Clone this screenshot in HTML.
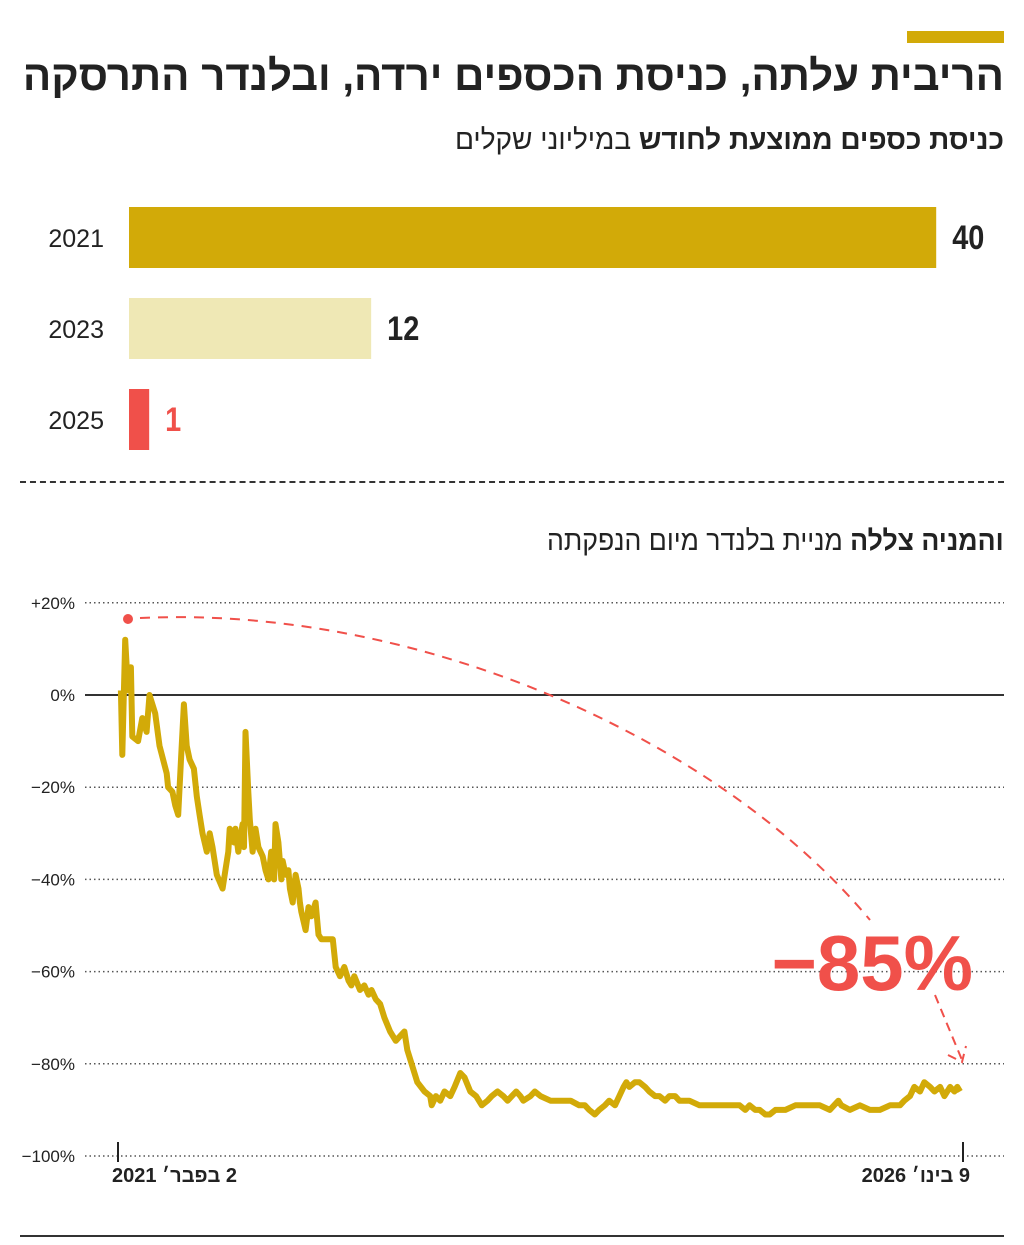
<!DOCTYPE html>
<html lang="he"><head><meta charset="utf-8">
<style>
body{margin:0;background:#fff;}
#root{position:relative;width:1024px;height:1245px;overflow:hidden;font-family:"Liberation Sans","Noto Sans CJK SC",sans-serif;background:#fff;}
.t{position:absolute;white-space:nowrap;}
</style></head><body>
<div id="root">
<div class="t" style="left:907px;top:31px;width:97px;height:12px;background:#d2aa08"></div>
<div class="t" dir="rtl" style="right:20px;top:52px;font-size:42px;font-weight:bold;color:#222;">הריבית עלתה, כניסת הכספים ירדה, ובלנדר התרסקה</div>
<div class="t" dir="rtl" style="right:20px;top:124px;font-size:28px;color:#222;"><b>כניסת כספים ממוצעת לחודש</b> במיליוני שקלים</div>
<svg id="bars" class="t" style="left:0;top:0" width="1024" height="470"></svg>
<div class="t" style="left:20px;top:481px;width:984px;border-top:2px dashed #333"></div>
<div class="t" dir="rtl" style="right:20px;top:525px;font-size:28px;color:#222;transform:scaleX(0.95);transform-origin:right"><b>והמניה צללה</b> מניית בלנדר מיום הנפקתה</div>
<svg id="line" class="t" style="left:0;top:580px" width="1024" height="620"></svg>
<div class="t" dir="rtl" style="left:112px;top:1165px;font-size:20px;font-weight:bold;color:#222">2 בפבר׳ 2021</div>
<div class="t" dir="rtl" style="right:54px;top:1165px;font-size:20px;font-weight:bold;color:#222">9 בינו׳ 2026</div>
<div class="t" style="left:20px;top:1235px;width:984px;border-top:2px solid #333"></div>
</div>
<script>
const barYears=["2021","2023","2025"];
const barValues=[40,12,1];
const barColors=["#d2aa08","#efe8b5","#f0504a"];
const labelColors=["#222","#222","#f0504a"];

const months=[0.2,0.3,0.5,0.7,0.9,1.0,1.4,1.7,2.0,2.2,2.6,2.9,3.4,3.5,3.8,4.0,4.2,4.4,4.6,4.8,5.0,5.3,5.5,5.7,5.9,6.2,6.4,6.6,6.9,7.3,7.5,7.7,7.8,8.1,8.2,8.4,8.7,8.8,8.9,9.1,9.2,9.4,9.6,9.8,10.1,10.3,10.5,10.7,10.9,11.0,11.2,11.4,11.5,11.7,11.9,12.0,12.2,12.4,12.6,12.7,12.8,13.1,13.3,13.5,13.8,14.0,14.2,15.0,15.2,15.5,15.8,16.1,16.3,16.5,16.9,17.2,17.5,17.7,18.0,18.3,18.6,19.0,19.4,19.7,20.0,20.2,20.5,20.9,21.4,21.8,21.9,22.2,22.5,22.8,23.2,23.5,23.9,24.2,24.6,25.0,25.4,25.8,26.1,26.5,26.9,27.2,27.5,27.8,28.1,28.3,28.8,29.1,29.5,30.2,30.9,31.6,32.2,32.6,32.9,33.3,33.6,34.0,34.3,34.7,35.0,35.3,35.5,35.7,36.1,36.4,36.8,37.1,37.5,37.8,38.2,38.5,38.9,39.2,39.9,40.6,41.3,42.0,42.7,43.4,43.8,44.1,44.5,44.8,45.2,45.5,45.9,46.6,47.3,48.3,49.0,49.7,50.0,50.3,50.5,51.1,51.8,52.5,53.2,53.9,54.6,54.9,55.3,55.6,56.0,56.3,56.7,57.0,57.4,57.7,58.1,58.4,58.6,58.8];
const changePct=[1,-13,12,1,6,-9,-10,-5,-8,0,-4,-11,-17,-20,-21,-24,-26,-14,-2,-11,-14,-16,-22,-26,-30,-34,-30,-33,-39,-42,-38,-34,-29,-32,-29,-34,-28,-33,-8,-21,-27,-34,-29,-33,-35,-38,-40,-34,-40,-28,-32,-40,-36,-39,-38,-42,-45,-39,-42,-45,-47,-51,-46,-48,-45,-52,-53,-53,-59,-61,-59,-62,-63,-61,-64,-63,-65,-64,-66,-67,-70,-73,-75,-74,-73,-77,-80,-84,-86,-87,-89,-87,-88,-86,-87,-85,-82,-83,-86,-87,-89,-88,-87,-86,-87,-88,-87,-86,-87,-88,-87,-86,-87,-88,-88,-88,-89,-89,-90,-91,-90,-89,-88,-89,-87,-85,-84,-85,-84,-84,-85,-86,-87,-87,-88,-87,-87,-88,-88,-89,-89,-89,-89,-89,-90,-89,-90,-90,-91,-91,-90,-90,-89,-89,-89,-90,-89,-88,-89,-90,-89,-90,-90,-89,-89,-88,-87,-85,-86,-84,-85,-86,-85,-87,-85,-86,-85,-86];
const yTicks=[20,0,-20,-40,-60,-80,-100];
const yTickLabels=["+20%","0%","\u221220%","\u221240%","\u221260%","\u221280%","\u2212100%"];
const xTickMonths=[0,59];

const NS="http://www.w3.org/2000/svg";
function mk(p,tag,at){const e=document.createElementNS(NS,tag);for(const k in at)e.setAttribute(k,at[k]);p.appendChild(e);return e;}

const bs=document.getElementById('bars');
const bx=v=>129+v*20.18;
barValues.forEach((v,i)=>{
  const y=207+i*91;
  const r=mk(bs,'rect',{x:129,y:y,width:bx(v)-129,height:61,fill:barColors[i]});
  
  
  const yl=mk(bs,'text',{x:104,y:y+40,'text-anchor':'end','font-size':25,fill:'#222'});
  yl.textContent=barYears[i];
  
  
  const vl=mk(bs,'text',{x:bx(v)+16,y:y+42,'font-size':34,'font-weight':'bold',fill:labelColors[i],transform:'translate('+(bx(v)+16)+',0) scale(0.85,1) translate('+(-(bx(v)+16))+',0)'});
  vl.textContent=barValues[i];
  
  
});

const ls=document.getElementById('line');
const X=m=>118+m*(845/59);
const Y=v=>695-580-v*4.61;
yTicks.forEach((v,i)=>{
  const g=mk(ls,'line',{x1:85,x2:1004,y1:Y(v),y2:Y(v),stroke:v===0?'#333':'#555','stroke-width':v===0?2:1.5,'stroke-dasharray':v===0?'':'1.5 3'});
  
  
  const t=mk(ls,'text',{x:75,y:Y(v)+6,'text-anchor':'end','font-size':17,fill:'#222'});
  t.textContent=yTickLabels[i];
  
  
});
xTickMonths.forEach((m,i)=>{
  const tk=mk(ls,'line',{x1:X(m),x2:X(m),y1:Y(-100)-14,y2:Y(-100)+6,stroke:'#222','stroke-width':2});
  
  
});
let d='';
months.forEach((m,i)=>{d+=(i?'L':'M')+X(m).toFixed(1)+','+Y(changePct[i]).toFixed(1);});
const p=mk(ls,'path',{d:d,fill:'none',stroke:'#d2aa08','stroke-width':6,'stroke-linejoin':'round'});


const dot=mk(ls,'circle',{cx:128,cy:39,r:5,fill:'#f0504a'});


const c1=mk(ls,'path',{d:'M140,38 C420,25 720,160 870,340',fill:'none',stroke:'#f0504a','stroke-width':2,'stroke-dasharray':'10 8'});


const c2=mk(ls,'path',{d:'M935,415 L962,480 M948,475 L962,482 L966,466',fill:'none',stroke:'#f0504a','stroke-width':2,'stroke-dasharray':'9 6'});


const big=mk(ls,'text',{x:973,y:410,'text-anchor':'end','font-size':78,'font-weight':'bold',fill:'#f0504a'});
big.textContent='\u221285%';


</script>
</body></html>
